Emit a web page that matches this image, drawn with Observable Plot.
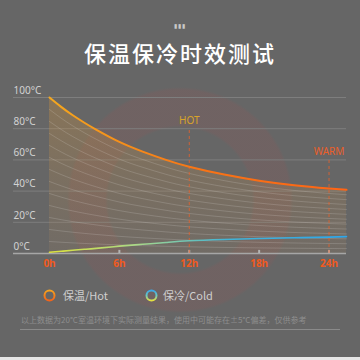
<!DOCTYPE html>
<html>
<head>
<meta charset="utf-8">
<script src="https://cdn.jsdelivr.net/npm/d3@7"></script>
<script src="https://cdn.jsdelivr.net/npm/@observablehq/plot@0.6"></script>
<style>
  html, body { margin:0; padding:0; background:#666; }
  #wrap { position:relative; width:360px; height:360px; background:#666; overflow:hidden;
    font-family:"Noto Sans","Noto Sans CJK SC",sans-serif; }
  #wm { position:absolute; left:0; top:0; width:360px; height:360px;
    background: radial-gradient(circle at 180px 200px, rgba(0,0,0,0) 72px, rgba(190,70,70,0.11) 75px, rgba(190,70,70,0.11) 110px, rgba(0,0,0,0) 113px); }
  #dots { position:absolute; top:22px; width:360px; text-align:center; font-size:6px; color:#c8c8c8; letter-spacing:1px; }
  #title { position:absolute; top:37px; width:360px; text-align:center; font-family:"Noto Sans CJK SC",sans-serif;
    font-size:22px; line-height:30px; color:#fff; letter-spacing:2px; font-weight:500; }
  #chart { position:absolute; left:0; top:78px; }
  .leg { position:absolute; top:287px; height:16px; display:flex; align-items:center; font-family:"Noto Sans CJK SC",sans-serif;
    font-size:11px; color:#cfcfcf; }
  #note { position:absolute; top:314px; left:21px; font-family:"Noto Sans CJK SC",sans-serif; font-size:8px; color:#8e8e8e; white-space:nowrap; }
  #rule { position:absolute; top:329px; left:20px; width:320px; height:1px; background:#8a8a8a; }
  #strip { position:absolute; top:357px; left:0; width:360px; height:3px; background:#e6e6e6; }
</style>
</head>
<body>
<div id="wrap">
  <div id="wm"></div>
  <div id="dots">▮▮▮</div>
  <div id="title">保温保冷时效测试</div>
  <div id="chart"></div>
  <div class="leg" style="left:42px">
    <svg width="16" height="16" style="margin-right:5px">
      <defs><linearGradient id="lgHot" x1="0" y1="0" x2="0" y2="1"><stop offset="0" stop-color="#f7a21e"/><stop offset="1" stop-color="#f2641a"/></linearGradient></defs>
      <circle cx="7.5" cy="8.5" r="5" fill="none" stroke="url(#lgHot)" stroke-width="2"/>
    </svg><span>保温/Hot</span>
  </div>
  <div class="leg" style="left:144px">
    <svg width="16" height="16" style="margin-right:3px">
      <defs><linearGradient id="lgCold" x1="0" y1="0" x2="0" y2="1"><stop offset="0" stop-color="#3aa8e8"/><stop offset="0.5" stop-color="#6cc8c0"/><stop offset="1" stop-color="#e4e040"/></linearGradient></defs>
      <circle cx="7.5" cy="8.5" r="5" fill="none" stroke="url(#lgCold)" stroke-width="2"/>
    </svg><span>保冷/Cold</span>
  </div>
  <div id="note">以上数据为20°C室温环境下实际测量结果，使用中可能存在±5°C偏差，仅供参考</div>
  <div id="rule"></div>
  <div id="strip"></div>
</div>
<script>
// ---- data ----
const hours     = [0, 1, 2, 3, 4, 6, 8, 10, 12, 15, 18, 21, 24, 25.5];
const hotTemps  = [100, 94, 88.6, 83.8, 79.4, 71.5, 65.3, 60, 55.6, 50.6, 46.7, 43.8, 41.7, 40.8];
const coldTemps = [0.8, 1.4, 2.1, 2.7, 3.3, 4.7, 5.9, 7.1, 8.2, 9.0, 9.6, 10.1, 10.5, 10.8];
const yTicks = [0, 20, 40, 60, 80, 100];
const xTicks = [0, 6, 12, 18, 24];
const markerHours = [12, 24];
const markerTemps = [80, 60];
const markerLabels = ["HOT", "WARM"];
const fanSteps = [1,2,3,4,5,6,7,8,9,10,11,12];

const chartData = hours.map((h, i) => ({h, hot: hotTemps[i], cold: coldTemps[i]}));
const fanData = fanSteps.flatMap(k => chartData.map(d => ({h: d.h, t: d.hot * k / 13, k})));
const hotMarker = [{h: markerHours[0], t: markerTemps[0], label: markerLabels[0]}];
const warmMarker = [{h: markerHours[1], t: markerTemps[1], label: markerLabels[1]}];

const plot = Plot.plot({
  width: 360, height: 200,
  marginLeft: 13, marginRight: 14, marginTop: 19, marginBottom: 25,
  style: {background: "transparent", fontFamily: "Noto Sans, sans-serif", overflow: "visible"},
  x: {domain: [-3.09, 25.5]},
  y: {domain: [0, 100]},
  marks: [
    Plot.ruleY(yTicks.filter(d => d > 0), {stroke: "#7e7e7e", strokeWidth: 1}),
    Plot.areaY(chartData, {x: "h", y: "hot", fill: "url(#hotFill)", curve: "natural"}),
    Plot.lineY(fanData, {x: "h", y: "t", z: "k", stroke: "#ffffff", strokeOpacity: 0.15, strokeWidth: 1, curve: "natural"}),
    Plot.ruleY([0], {stroke: "#a6a6a6", strokeWidth: 1.5}),
    Plot.ruleX(xTicks.filter(d => d > 0), {y1: 0, y2: 2, stroke: "#b4b4b4", strokeWidth: 2}),
    Plot.ruleX(hotMarker, {x: "h", y1: 0, y2: "t", stroke: "#e8602a", strokeOpacity: 0.8, strokeDasharray: "3,3"}),
    Plot.ruleX(warmMarker, {x: "h", y1: 0, y2: "t", stroke: "#e8602a", strokeOpacity: 0.8, strokeDasharray: "3,3"}),
    Plot.text(hotMarker, {x: "h", y: "t", text: "label", fill: "#d8a42a", dy: -8, fontSize: 10}),
    Plot.text(warmMarker, {x: "h", y: "t", text: "label", fill: "#ea5f2a", dy: -8, fontSize: 10}),
    Plot.lineY(chartData, {x: "h", y: "cold", stroke: "url(#coldStroke)", strokeWidth: 1.6, curve: "natural"}),
    Plot.lineY(chartData, {x: "h", y: "hot", stroke: "url(#hotStroke)", strokeWidth: 2, curve: "natural"}),
    Plot.axisY(yTicks, {tickSize: 0, tickPadding: 0, textAnchor: "start", dy: -7, tickFormat: d => d + "°C",
      fill: "#d2d2d2", fontSize: 10, label: null}),
    Plot.axisX(xTicks, {tickSize: 0, tickPadding: 6, tickFormat: d => d + "h", fill: "#f05a1e",
      fontWeight: "bold", fontSize: 10, label: null})
  ]
});

const defs = d3.select(plot).insert("defs", ":first-child");
const hf = defs.append("linearGradient").attr("id", "hotFill").attr("x1", 0).attr("y1", 0).attr("x2", 0).attr("y2", 1);
hf.append("stop").attr("offset", 0).attr("stop-color", "#d4943a").attr("stop-opacity", 0.32);
hf.append("stop").attr("offset", 1).attr("stop-color", "#b08a60").attr("stop-opacity", 0.15);
const hs = defs.append("linearGradient").attr("id", "hotStroke").attr("x1", 0).attr("y1", 0).attr("x2", 1).attr("y2", 0);
hs.append("stop").attr("offset", 0).attr("stop-color", "#f5a81e");
hs.append("stop").attr("offset", 0.5).attr("stop-color", "#f77416");
hs.append("stop").attr("offset", 1).attr("stop-color", "#ff6414");
const cs = defs.append("linearGradient").attr("id", "coldStroke").attr("x1", 0).attr("y1", 0).attr("x2", 1).attr("y2", 0);
cs.append("stop").attr("offset", 0).attr("stop-color", "#dce23c");
cs.append("stop").attr("offset", 0.3).attr("stop-color", "#a8d88a");
cs.append("stop").attr("offset", 0.6).attr("stop-color", "#40b4d8");
cs.append("stop").attr("offset", 1).attr("stop-color", "#2ea6ea");

document.getElementById("chart").appendChild(plot);
</script>
</body>
</html>
